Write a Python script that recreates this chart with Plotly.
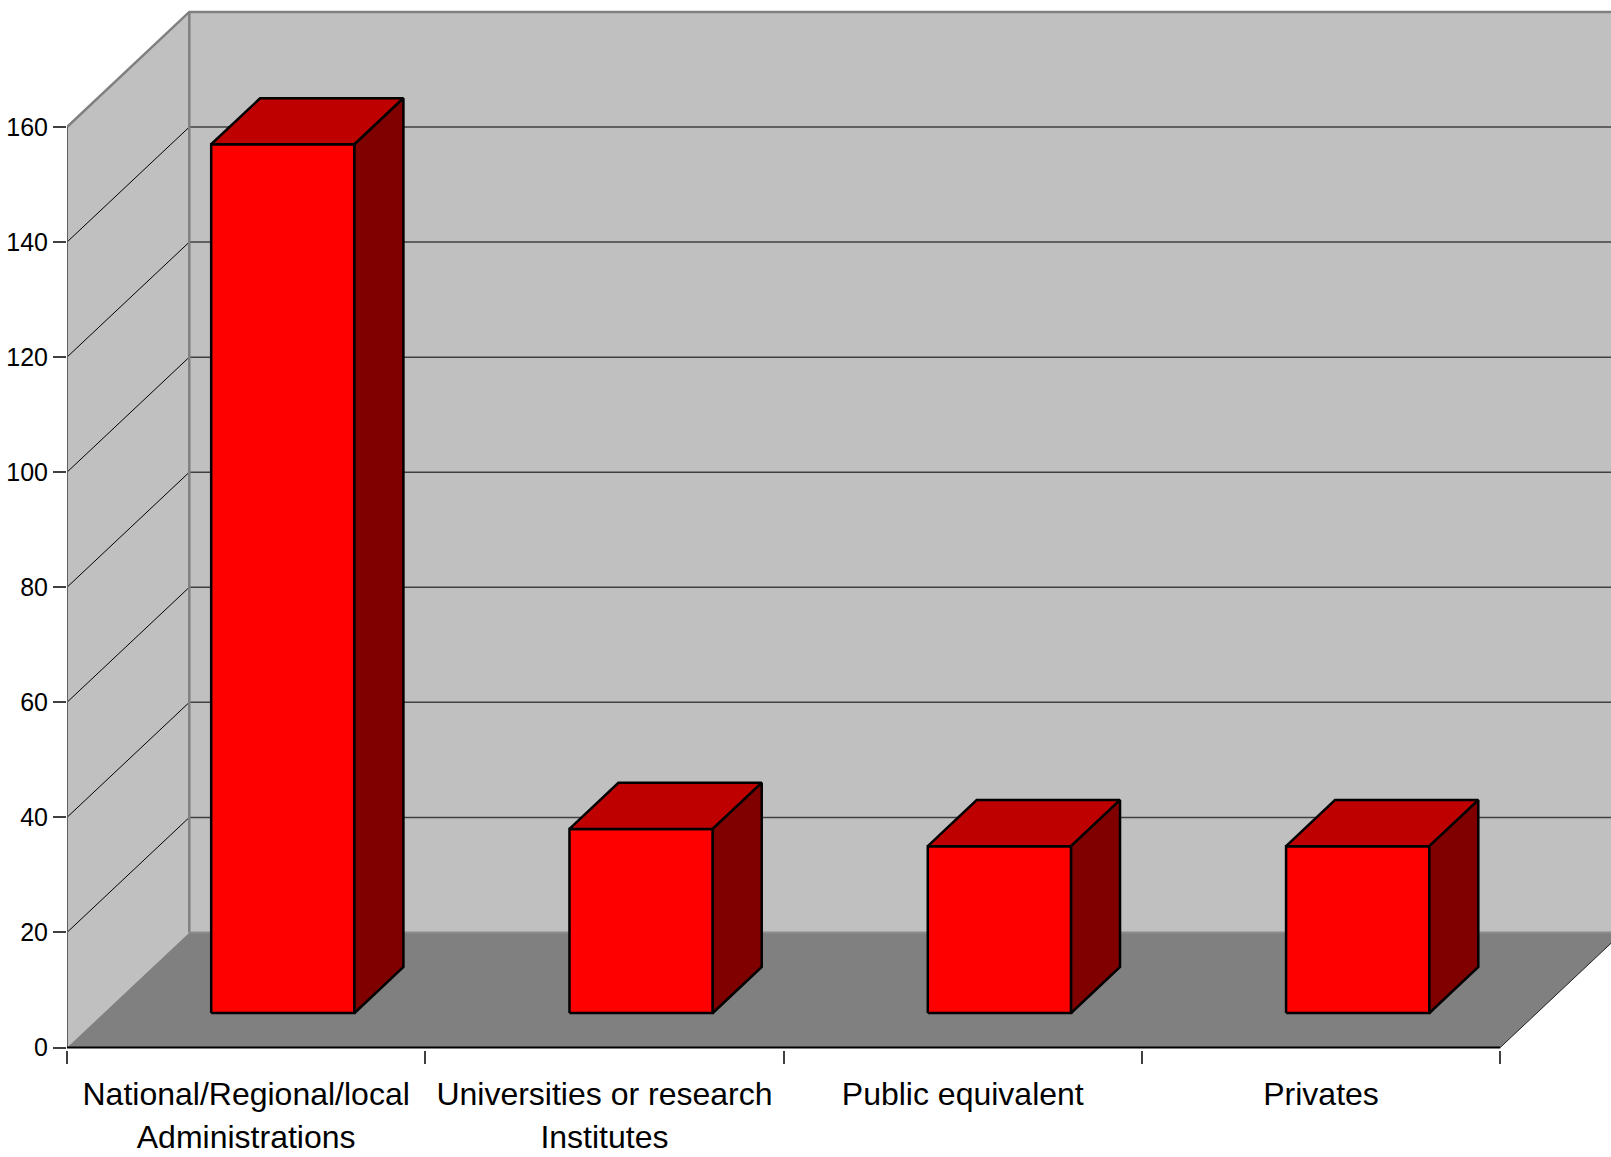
import plotly.graph_objects as go

# ---- data ----
categories = ["National/Regional/local<br>Administrations",
              "Universities or research<br>Institutes",
              "Public equivalent",
              "Privates"]
values = [151, 32, 29, 29]
y_ticks = [0, 20, 40, 60, 80, 100, 120, 140, 160]

# ---- geometry / styling ----
W, H = 1611, 1157
X0_PX = 67          # x=0 pixel
Y0_PX = 1047.5      # y=0 pixel
PX_PER_UNIT = 5.753
CAT_PX = 358.3
DX = 122.3 / CAT_PX  # depth offset in category units
DY = 20.0            # depth offset in value units
Z0, Z1 = 0.3, 0.7    # bar depth extent
HALF_W = 0.2

plot_w = W - X0_PX
plot_bottom_px = Y0_PX + 2.5
x_range = [0, plot_w / CAT_PX]
y_range = [-(plot_bottom_px - Y0_PX) / PX_PER_UNIT, Y0_PX / PX_PER_UNIT]
xmax = x_range[1] + 0.05

FONT = "Liberation Sans Narrow, Arial Narrow, Liberation Sans, Arial, sans-serif"

fig = go.Figure()


def poly(xs, ys, fill, line_color, lw):
    fig.add_trace(go.Scatter(x=xs + [xs[0]], y=ys + [ys[0]], mode="lines",
                             fill="toself", fillcolor=fill,
                             line=dict(color=line_color, width=lw),
                             hoverinfo="skip", showlegend=False))


def seg(xs, ys, color, lw):
    fig.add_trace(go.Scatter(x=xs, y=ys, mode="lines",
                             line=dict(color=color, width=lw),
                             hoverinfo="skip", showlegend=False))


ncat = len(categories)
top = y_ticks[-1]
centers = [i + 0.5 for i in range(ncat)]
line1 = [c.split("<br>")[0] for c in categories]
line2 = [(c.split("<br>") + [""])[1] for c in categories]

# side wall
poly([0, 0, DX, DX], [0, top, top + DY, DY], "#C0C0C0", "rgba(0,0,0,0)", 0)
# back wall
poly([DX, xmax, xmax, DX], [DY, DY, top + DY, top + DY], "#C0C0C0", "rgba(0,0,0,0)", 0)
# floor
poly([0, ncat, ncat + DX, DX], [0, 0, DY, DY], "#808080", "rgba(0,0,0,0)", 0)

# gridlines
for v in y_ticks[1:-1]:
    seg([0, DX], [v, v + DY], "#000000", 1)
for v in y_ticks[1:-1]:
    seg([DX, xmax], [v + DY, v + DY], "#404040", 1.5)

# wall edges
seg([0, DX, xmax], [top, top + DY, top + DY], "#808080", 2.5)
seg([DX, DX], [DY, top + DY], "#808080", 2.5)
seg([DX, xmax], [DY, DY], "#8C8C8C", 2)
seg([ncat, ncat + DX], [0, DY], "#202020", 1)
seg([0, 0], [0, top], "#606060", 2)
seg([0, ncat], [0, 0], "#000000", 2)


def P(x, v, z):
    return x + z * DX, v + z * DY


for i, val in enumerate(values):
    c = centers[i]
    xl, xr = c - HALF_W, c + HALF_W
    # front face
    pts = [P(xl, 0, Z0), P(xr, 0, Z0), P(xr, val, Z0), P(xl, val, Z0)]
    poly([p[0] for p in pts], [p[1] for p in pts], "#FF0000", "#000000", 2.5)
    # top face
    pts = [P(xl, val, Z0), P(xr, val, Z0), P(xr, val, Z1), P(xl, val, Z1)]
    poly([p[0] for p in pts], [p[1] for p in pts], "#BE0000", "#000000", 2.5)
    # side face
    pts = [P(xr, 0, Z0), P(xr, 0, Z1), P(xr, val, Z1), P(xr, val, Z0)]
    poly([p[0] for p in pts], [p[1] for p in pts], "#800000", "#000000", 2.5)

# invisible trace so the second (label) x-axis is drawn
fig.add_trace(go.Scatter(x=centers, y=[0] * ncat, xaxis="x2", mode="markers",
                         marker=dict(opacity=0), hoverinfo="skip", showlegend=False))

fig.update_layout(
    width=W, height=H,
    margin=dict(l=X0_PX, r=0, t=0, b=H - plot_bottom_px, pad=0),
    paper_bgcolor="white", plot_bgcolor="white",
    font=dict(family=FONT, color="black"),
    xaxis=dict(range=x_range, showgrid=False, zeroline=False, showline=False,
               automargin=False, tickangle=0,
               tickmode="array", tickvals=centers,
               ticktext=line1, ticks="", tickfont=dict(size=32, family=FONT),
               ticklabelstandoff=22,
               minor=dict(tickmode="array", tickvals=list(range(ncat + 1)),
                          ticks="outside", ticklen=13, tickcolor="#404040",
                          tickwidth=1.5, showgrid=False),
               fixedrange=True),
    xaxis2=dict(range=x_range, overlaying="x", anchor="y", side="bottom",
                showgrid=False, zeroline=False, showline=False,
                automargin=False, tickangle=0,
                tickmode="array", tickvals=centers,
                ticktext=line2, ticks="", tickfont=dict(size=32, family=FONT),
                ticklabelstandoff=65, fixedrange=True),
    yaxis=dict(range=y_range, showgrid=False, zeroline=False, showline=False,
               automargin=False,
               tickmode="array", tickvals=y_ticks, ticks="outside", ticklen=13,
               tickcolor="#404040", tickwidth=1.5,
               tickfont=dict(size=25, family=FONT), fixedrange=True),
)

fig.write_html("out.html", config={"displayModeBar": False},
               post_script="document.body.style.margin='0';")
